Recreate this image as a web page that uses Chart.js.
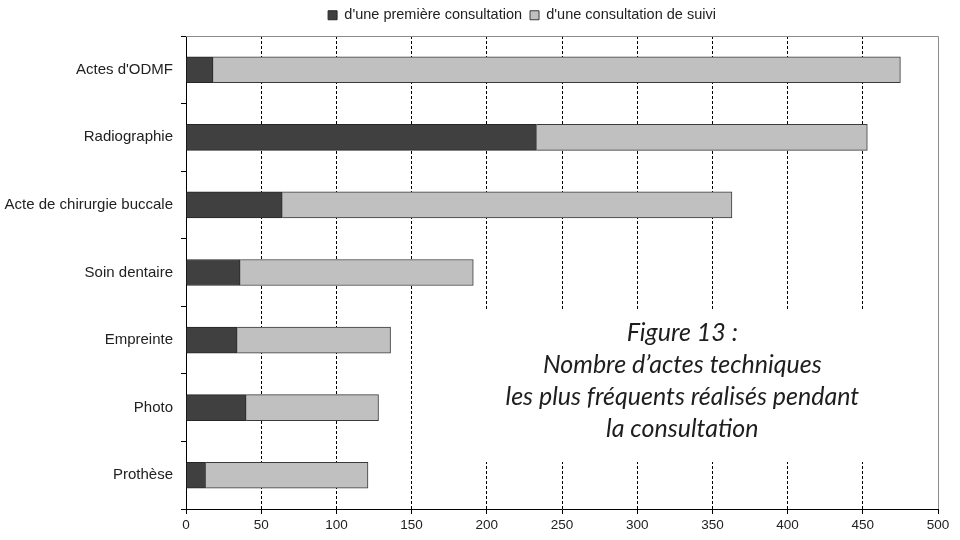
<!DOCTYPE html>
<html>
<head>
<meta charset="utf-8">
<script src="https://cdn.jsdelivr.net/npm/chart.js@4/dist/chart.umd.min.js"></script>
<style>
    body { margin: 0; background: #fff; }
    #wrap { width: 960px; height: 540px; }
</style>
</head>
<body>
<div id="wrap"><canvas id="chart" width="960" height="540"></canvas></div>
<script>
// Data
const categories = ['Actes d\'ODMF', 'Radiographie', 'Acte de chirurgie buccale', 'Soin dentaire', 'Empreinte', 'Photo', 'Prothèse'];
const firstVisit = [18, 233, 64, 36, 34, 40, 13];
const followUp = [457, 220, 299, 155, 102, 88, 108];
const xTicks = [0, 50, 100, 150, 200, 250, 300, 350, 400, 450, 500];
const captionLines = ['Figure 13 :', 'Nombre d\u2019actes techniques', 'les plus fréquents réalisés pendant', 'la consultation'];

const font = 'Liberation Sans, Arial, sans-serif';

// legend: a bit more room below it, and pushed right like in the original
const legendTweak = {
    id: 'legendTweak',
    beforeInit(chart) {
        const fit = chart.legend.fit;
        chart.legend.fit = function () {
            fit.bind(chart.legend)();
            this.height = 36;
        };
    },
    afterLayout(chart) {
        chart.legend.left += 53;
        chart.legend.right += 53;
    }
};

// grey frame on top/right + the figure caption box
const frameAndCaption = {
    id: 'frameAndCaption',
    afterDatasetsDraw(chart) {
        const { ctx, chartArea: a, scales } = chart;
        ctx.save();
        ctx.strokeStyle = '#8c8c8c';
        ctx.lineWidth = 1;
        ctx.beginPath();
        ctx.moveTo(a.left, a.top + 0.5);
        ctx.lineTo(a.right + 0.5, a.top + 0.5);
        ctx.lineTo(a.right + 0.5, a.bottom);
        ctx.stroke();

        // caption sits over the lower right part of the plot
        const cx = scales.x.getPixelForValue(330);
        const top = a.top + 274;
        ctx.fillStyle = '#fff';
        ctx.fillRect(cx - 200, top, 400, 152);
        ctx.fillStyle = '#1e1e1e';
        ctx.font = 'italic 25px Lato, sans-serif';
        ctx.textAlign = 'center';
        ctx.textBaseline = 'alphabetic';
        captionLines.forEach((line, i) => {
            ctx.fillText(line, cx, top + 31 + i * 32);
        });
        ctx.restore();
    }
};

const chart = new Chart(document.getElementById('chart').getContext('2d'), {
    type: 'bar',
    data: {
        labels: categories,
        datasets: [{
            label: 'd\'une première consultation',
            data: firstVisit,
            backgroundColor: '#404040',
            borderColor: '#262626',
            borderWidth: 1,
            barThickness: 26
        }, {
            label: 'd\'une consultation de suivi',
            data: followUp,
            backgroundColor: '#c0c0c0',
            borderColor: '#3a3a3a',
            borderWidth: 1,
            barThickness: 26
        }]
    },
    options: {
        indexAxis: 'y',
        responsive: false,
        animation: false,
        layout: { padding: { top: 0, right: 22, bottom: 0, left: 0 } },
        plugins: {
            legend: {
                position: 'top',
                labels: {
                    color: '#222',
                    font: { family: font, size: 14.5 },
                    boxWidth: 9,
                    boxHeight: 9,
                    padding: 8
                }
            },
            tooltip: { enabled: false }
        },
        scales: {
            x: {
                stacked: true,
                min: 0,
                max: 500,
                afterBuildTicks: (scale) => { scale.ticks = xTicks.map(v => ({ value: v })); },
                afterFit: (scale) => { scale.height = 31; },
                ticks: { color: '#222', font: { family: font, size: 13.5 }, padding: 3 },
                grid: {
                    color: (c) => (c.tick && (c.tick.value === 0 || c.tick.value === 500)) ? 'rgba(0,0,0,0)' : '#000',
                    tickColor: '#000',
                    tickLength: 5,
                    lineWidth: 1
                },
                border: { color: '#000', width: 1, dash: [3, 2] }
            },
            y: {
                stacked: true,
                afterFit: (scale) => { scale.width = 186; },
                ticks: { color: '#222', font: { family: font, size: 15 }, padding: 8 },
                grid: {
                    offset: true,
                    drawOnChartArea: false,
                    color: '#000',
                    tickLength: 5
                },
                border: { color: '#000', width: 1 }
            }
        }
    },
    plugins: [legendTweak, frameAndCaption]
});
</script>
</body>
</html>
